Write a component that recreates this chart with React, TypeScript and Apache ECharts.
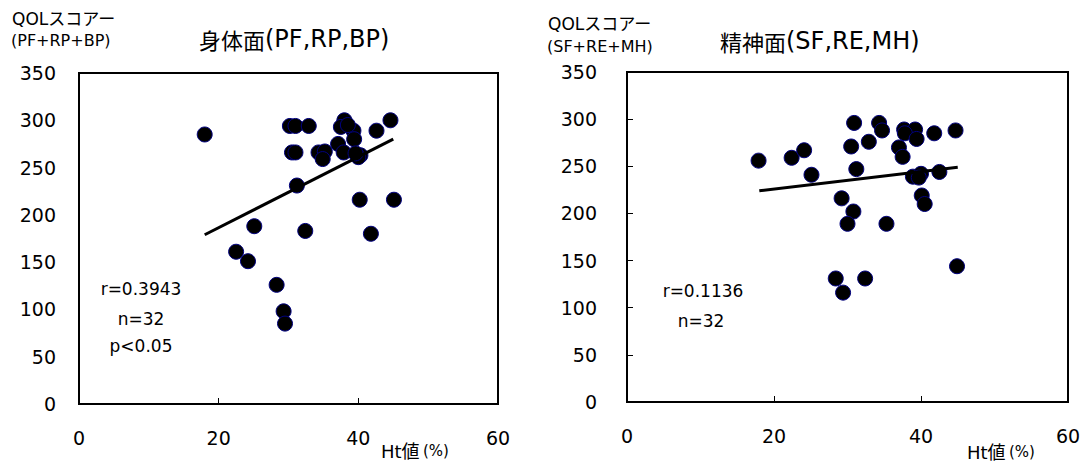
import React, { useEffect, useRef } from "react";
import * as echarts from "echarts";

// Left panel: 身体面 (Ht値 %, QOL score)
const physicalHt = [18, 30.2, 31.0, 32.9, 38.0, 37.5, 39.3, 39.4, 42.6, 44.6, 30.5, 31.0, 34.3, 35.2, 34.9, 37.1, 37.9, 40.3, 40.0, 31.2, 40.2, 45.1, 25.1, 32.4, 41.8, 22.5, 24.2, 28.3, 29.3, 29.5, 38.5, 39.6];
const physicalQol = [285, 294, 294, 294, 300, 293, 289, 280, 289, 300, 266, 266, 266, 267, 259, 275, 266, 263, 261, 231, 216, 216, 188, 183, 180, 161, 151, 126, 98, 85, 295, 265];
const physicalFitX = [18, 45];
const physicalFitY = [179, 280];

// Right panel: 精神面
const mentalHt = [17.9, 22.4, 24.1, 25.1, 30.9, 30.5, 31.2, 32.9, 34.3, 34.7, 37.7, 39.2, 37.8, 39.4, 41.8, 44.7, 37.0, 37.5, 38.9, 40.0, 42.5, 40.1, 40.5, 29.2, 30.8, 30.0, 35.3, 28.4, 32.4, 29.4, 44.9, 39.7];
const mentalQol = [256, 259, 267, 241, 296, 271, 247, 276, 296, 288, 289, 289, 285, 279, 285, 288, 270, 260, 239, 242, 244, 219, 210, 216, 202, 189, 189, 131, 131, 116, 144, 238];
const mentalFitX = [18, 45];
const mentalFitY = [224, 249];

const xTicks = { min: 0, max: 60, interval: 20 };
const yTicks = { min: 0, max: 350, interval: 50 };

const zip = (a: number[], b: number[]) => a.map((v, i) => [v, b[i]]);

export default function App() {
  const ref = useRef<HTMLDivElement>(null);
  useEffect(() => {
    if (!ref.current) return;
    const chart = echarts.init(ref.current, null, { renderer: "svg" });
    const num = "DejaVu Sans, Noto Sans CJK JP, sans-serif";
    const jp = "Noto Sans CJK JP, DejaVu Sans, sans-serif";
    const xAxisBase = (gi: number) => ({
      type: "value",
      gridIndex: gi,
      ...xTicks,
      axisLine: { show: true, lineStyle: { color: "#000", width: 2 } },
      axisTick: { show: true, inside: true, length: 6, lineStyle: { color: "#000", width: 1 } },
      axisLabel: { color: "#000", fontSize: 19, fontFamily: num, margin: 24 },
      splitLine: { show: false },
    });
    const yAxisBase = (gi: number, ticks: boolean, margin: number) => ({
      type: "value",
      gridIndex: gi,
      ...yTicks,
      axisLine: { show: true, lineStyle: { color: "#000", width: 2 } },
      axisTick: { show: ticks, inside: true, length: 6, lineStyle: { color: "#000", width: 1 } },
      axisLabel: { color: "#000", fontSize: 19, fontFamily: num, margin },
      splitLine: { show: false },
    });
    const scatter = (gi: number, xs: number[], ys: number[]) => ({
      type: "scatter",
      xAxisIndex: gi,
      yAxisIndex: gi,
      symbolSize: 15,
      itemStyle: { color: "#000", borderColor: "#000080", borderWidth: 1, opacity: 1 },
      data: zip(xs, ys),
      z: 3,
    });
    const fit = (gi: number, xs: number[], ys: number[]) => ({
      type: "line",
      xAxisIndex: gi,
      yAxisIndex: gi,
      showSymbol: false,
      symbol: "none",
      lineStyle: { color: "#000", width: 3 },
      data: zip(xs, ys),
      z: 4,
    });
    const txt = (text: string, x: number, y: number, size: number, align: string, family = num) => ({
      type: "text",
      x,
      y,
      style: { text, fontSize: size, fontFamily: family, fill: "#000", align, verticalAlign: "middle" },
    });
    const title = (k: string, l: string, x: number, y: number) => ({
      type: "text",
      x,
      y,
      style: {
        text: `{k|${k}}{l|${l}}`,
        fill: "#000",
        verticalAlign: "middle",
        rich: {
          k: { fontSize: 22, fontFamily: jp, fill: "#000" },
          l: { fontSize: 24, fontFamily: num, fill: "#000" },
        },
      },
    });
    const htName = (x: number, y: number) => ({
      type: "text",
      x,
      y,
      style: {
        text: "{a|Ht値} {b|(%)}",
        fill: "#000",
        verticalAlign: "middle",
        rich: {
          a: { fontSize: 18, fontFamily: num, fill: "#000" },
          b: { fontSize: 15, fontFamily: num, fill: "#000" },
        },
      },
    });
    chart.setOption({
      animation: false,
      backgroundColor: "#fff",
      grid: [
        { left: 79, top: 73, width: 419, height: 331, show: true, borderColor: "#000", borderWidth: 2, backgroundColor: "transparent" },
        { left: 627, top: 72, width: 441, height: 330, show: true, borderColor: "#000", borderWidth: 2, backgroundColor: "transparent" },
      ],
      xAxis: [xAxisBase(0), xAxisBase(1)],
      yAxis: [yAxisBase(0, false, 23), yAxisBase(1, true, 30)],
      series: [
        scatter(0, physicalHt, physicalQol),
        fit(0, physicalFitX, physicalFitY),
        scatter(1, mentalHt, mentalQol),
        fit(1, mentalFitX, mentalFitY),
      ],
      graphic: [
        txt("QOLスコアー", 12, 19, 17, "left"),
        txt("(PF+RP+BP)", 11, 40, 16, "left"),
        title("身体面", "(PF,RP,BP)", 199, 39),
        txt("QOLスコアー", 548, 24, 17, "left"),
        txt("(SF+RE+MH)", 547, 46, 16, "left"),
        title("精神面", "(SF,RE,MH)", 720, 41),
        txt("r=0.3943", 141, 289, 17, "center"),
        txt("n=32", 141, 319, 17, "center"),
        txt("p<0.05", 141, 346, 17, "center"),
        txt("r=0.1136", 703, 291, 17, "center"),
        txt("n=32", 701, 321, 17, "center"),
        htName(381, 451),
        htName(967, 452),
      ],
    });
    return () => chart.dispose();
  }, []);
  return (
    <div
      ref={ref}
      style={{ position: "fixed", left: 0, top: 0, width: 1090, height: 470, background: "#fff" }}
    />
  );
}
